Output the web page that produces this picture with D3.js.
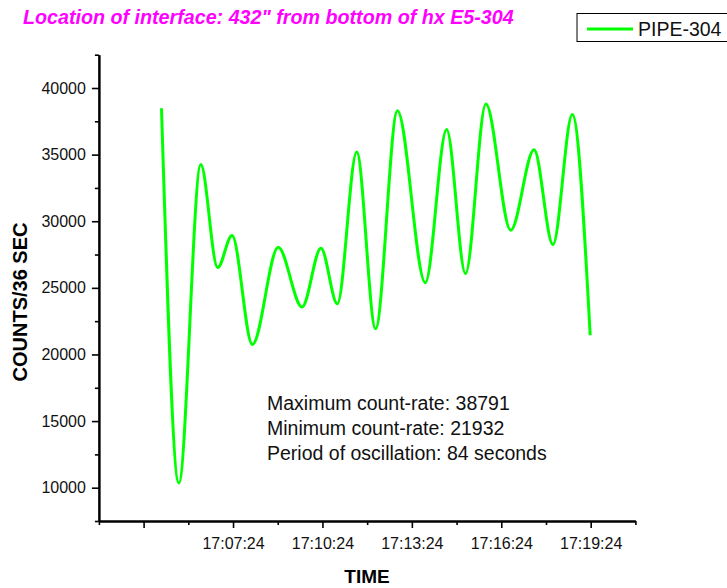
<!DOCTYPE html>
<html>
<head>
<meta charset="utf-8">
<script src="https://cdn.jsdelivr.net/npm/d3@7"></script>
<style>
  html, body { margin: 0; padding: 0; background: #fff; }
  svg { display: block; font-family: "Liberation Sans", Arial, sans-serif; }
</style>
</head>
<body>
<svg id="chart" width="727" height="588"></svg>
<script>
// ---- data ----
const times = ["17:05:00","17:05:35","17:06:19","17:06:53","17:07:22","17:08:03","17:08:55","17:09:43","17:10:21","17:10:54","17:11:33","17:12:11","17:12:55","17:13:51","17:14:34","17:15:12","17:15:53","17:16:43","17:17:30","17:18:08","17:18:47","17:19:23"];
const counts = [38480,10350,34250,26520,28930,20750,28040,23560,27970,23810,35190,21932,38300,25390,36880,26070,38791,29320,35370,28250,38010,21440];
const seriesName = "PIPE-304";
const xDomain = ["17:02:54", "17:20:54"];
const xMajorTicks = ["17:04:24","17:07:24","17:10:24","17:13:24","17:16:24","17:19:24"];
const xTickLabels = ["","17:07:24","17:10:24","17:13:24","17:16:24","17:19:24"];
const xMinorTicks = ["17:02:54","17:05:54","17:08:54","17:11:54","17:14:54","17:17:54","17:20:54"];
const yDomain = [7500, 42500];
const yMajorTicks = [10000,15000,20000,25000,30000,35000,40000];
const yMinorTicks = [7500,12500,17500,22500,27500,32500,37500,42500];
const titleText = "Location of interface: 432\" from bottom of hx E5-304";
const xTitle = "TIME";
const yTitle = "COUNTS/36 SEC";
const notes = ["Maximum count-rate: 38791","Minimum count-rate: 21932","Period of oscillation: 84 seconds"];

// ---- drawing ----
(function () {
const parse = d3.timeParse("%H:%M:%S");
const svg = d3.select("#chart");
const mLeft = 98.9, mRight = 635.4, mTop = 54.7, mBottom = 521;

const x = d3.scaleTime().domain(xDomain.map(parse)).range([mLeft, mRight]);
const y = d3.scaleLinear().domain(yDomain).range([mBottom, mTop]);

const data = times.map((t, i) => ({t: parse(t), v: counts[i]}));

// line
const line = d3.line().x(d => x(d.t)).y(d => y(d.v)).curve(d3.curveMonotoneX);
svg.append("path").datum(data)
  .attr("d", line).attr("fill", "none")
  .attr("stroke", "#00ff00").attr("stroke-width", 3).attr("stroke-linejoin", "round");

// x axis minor
const gxMinor = svg.append("g").attr("transform", `translate(0,${mBottom})`)
  .call(d3.axisBottom(x).tickValues(xMinorTicks.map(parse)).tickSize(4).tickSizeOuter(0).tickFormat(""));
// x axis major
const gx = svg.append("g").attr("transform", `translate(0,${mBottom})`)
  .call(d3.axisBottom(x).tickValues(xMajorTicks.map(parse)).tickSize(7).tickSizeOuter(0)
    .tickFormat((d, i) => xTickLabels[i]).tickPadding(10));
// y axis minor
const gyMinor = svg.append("g").attr("transform", `translate(${mLeft},0)`)
  .call(d3.axisLeft(y).tickValues(yMinorTicks).tickSize(4).tickSizeOuter(0).tickFormat(""));
// y axis major
const gy = svg.append("g").attr("transform", `translate(${mLeft},0)`)
  .call(d3.axisLeft(y).tickValues(yMajorTicks).tickSize(7).tickSizeOuter(0)
    .tickFormat(d3.format("d")).tickPadding(6));

[gxMinor, gx, gyMinor, gy].forEach(g => {
  g.selectAll("path.domain").attr("stroke", "#000").attr("stroke-width", 2);
  g.selectAll(".tick line").attr("stroke", "#000").attr("stroke-width", 1.6);
  g.selectAll(".tick text").attr("fill", "#111")
    .style("font-family", '"Liberation Sans", Arial, sans-serif').style("font-size", "16px");
});

// axis titles
svg.append("text").attr("x", 367).attr("y", 583).attr("text-anchor", "middle")
  .style("font-weight", "bold").style("font-size", "19px").text(xTitle);
svg.append("text").attr("transform", "translate(26.5,302) rotate(-90)").attr("text-anchor", "middle")
  .style("font-weight", "bold").style("font-size", "20px").text(yTitle);

// title
svg.append("text").attr("x", 23).attr("y", 24).attr("fill", "#ff00ff")
  .style("font-weight", "bold").style("font-style", "italic").style("font-size", "19.7px")
  .text(titleText);

// legend
const lg = svg.append("g");
lg.append("rect").attr("x", 577).attr("y", 13.5).attr("width", 160).attr("height", 28)
  .attr("fill", "#fff").attr("stroke", "#000").attr("stroke-width", 1);
lg.append("line").attr("x1", 587).attr("x2", 633).attr("y1", 29).attr("y2", 29)
  .attr("stroke", "#00ff00").attr("stroke-width", 3);
lg.append("text").attr("x", 638).attr("y", 36).style("font-size", "19.5px").attr("fill", "#111").text(seriesName);

// annotation
svg.append("g").selectAll("text").data(notes).join("text")
  .attr("x", 267).attr("y", (d, i) => 410 + i * 25)
  .style("font-size", "19.5px").attr("fill", "#111").text(d => d);
})();
</script>
</body>
</html>
